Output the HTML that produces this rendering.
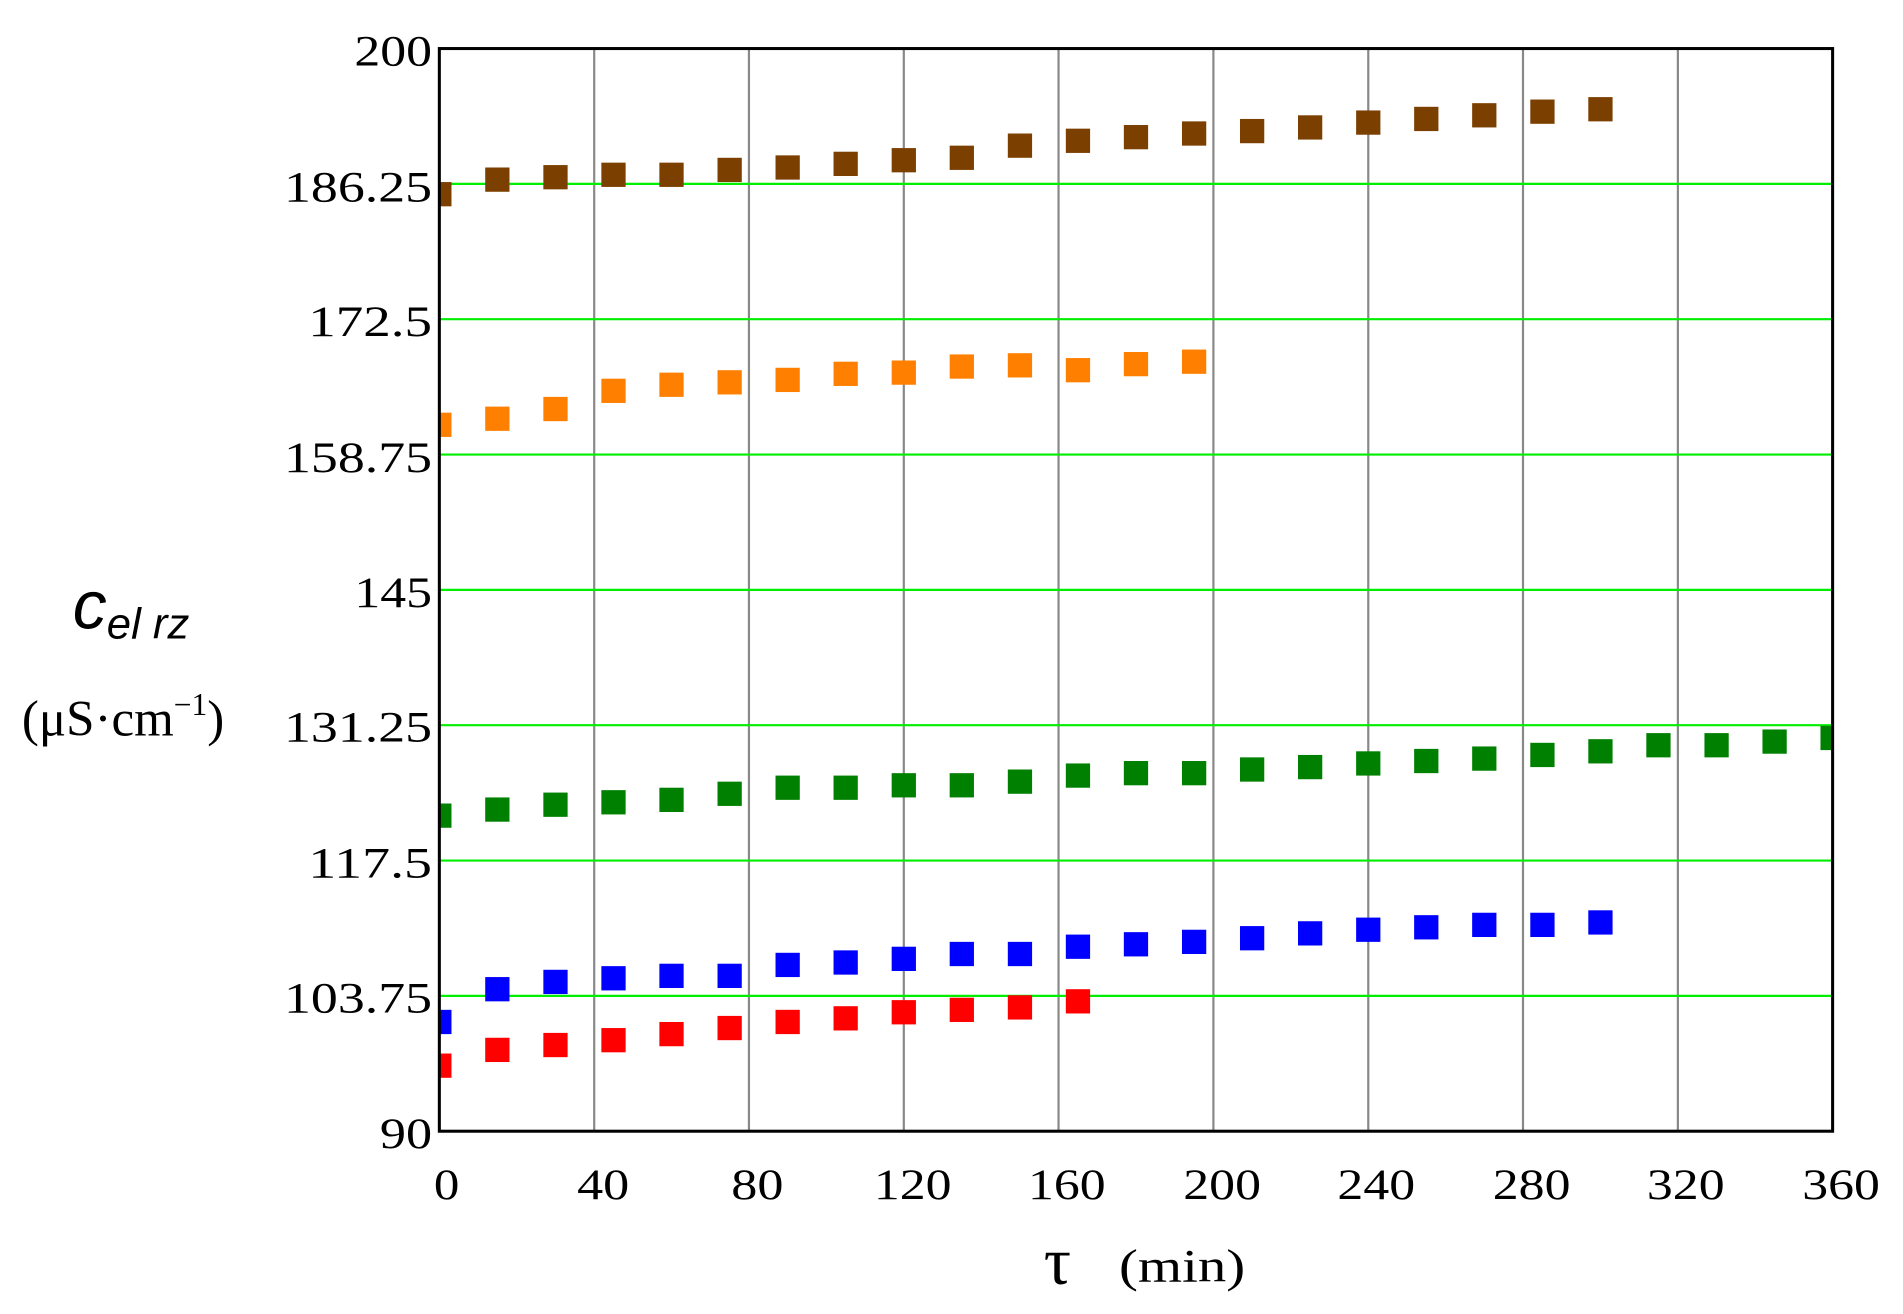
<!DOCTYPE html>
<html><head><meta charset="utf-8"><style>html,body{margin:0;padding:0;background:#fff}svg{display:block}</style></head>
<body>
<svg width="1903" height="1314" viewBox="0 0 1568 1082.6" preserveAspectRatio="none" xmlns="http://www.w3.org/2000/svg">
<defs><clipPath id="c"><rect x="362" y="40" width="1148" height="892"/></clipPath></defs>
<g stroke="#888" stroke-width="1.8">
<line x1="489.6" y1="40" x2="489.6" y2="932"/><line x1="617.1" y1="40" x2="617.1" y2="932"/><line x1="744.7" y1="40" x2="744.7" y2="932"/><line x1="872.2" y1="40" x2="872.2" y2="932"/><line x1="999.8" y1="40" x2="999.8" y2="932"/><line x1="1127.4" y1="40" x2="1127.4" y2="932"/><line x1="1254.9" y1="40" x2="1254.9" y2="932"/><line x1="1382.5" y1="40" x2="1382.5" y2="932"/>
</g>
<g stroke="#00ee00" stroke-width="1.8">
<line x1="362" y1="151.5" x2="1510" y2="151.5"/><line x1="362" y1="263" x2="1510" y2="263"/><line x1="362" y1="374.5" x2="1510" y2="374.5"/><line x1="362" y1="486" x2="1510" y2="486"/><line x1="362" y1="597.5" x2="1510" y2="597.5"/><line x1="362" y1="709" x2="1510" y2="709"/><line x1="362" y1="820.5" x2="1510" y2="820.5"/>
</g>
<g clip-path="url(#c)">
<g fill="#7b3f00">
<rect x="352" y="150" width="20" height="20"/><rect x="399.8" y="138" width="20" height="20"/><rect x="447.7" y="136" width="20" height="20"/><rect x="495.5" y="134" width="20" height="20"/><rect x="543.3" y="134" width="20" height="20"/><rect x="591.2" y="130" width="20" height="20"/><rect x="639" y="128" width="20" height="20"/><rect x="686.8" y="125" width="20" height="20"/><rect x="734.7" y="122" width="20" height="20"/><rect x="782.5" y="120" width="20" height="20"/><rect x="830.4" y="110" width="20" height="20"/><rect x="878.2" y="106" width="20" height="20"/><rect x="926" y="103" width="20" height="20"/><rect x="973.9" y="100" width="20" height="20"/><rect x="1021.7" y="98" width="20" height="20"/><rect x="1069.5" y="95" width="20" height="20"/><rect x="1117.4" y="91" width="20" height="20"/><rect x="1165.2" y="88" width="20" height="20"/><rect x="1213" y="85" width="20" height="20"/><rect x="1260.9" y="82" width="20" height="20"/><rect x="1308.7" y="80" width="20" height="20"/>
</g>
<g fill="#ff8000">
<rect x="352" y="340" width="20" height="20"/><rect x="399.8" y="335" width="20" height="20"/><rect x="447.7" y="327" width="20" height="20"/><rect x="495.5" y="312" width="20" height="20"/><rect x="543.3" y="307" width="20" height="20"/><rect x="591.2" y="305" width="20" height="20"/><rect x="639" y="303" width="20" height="20"/><rect x="686.8" y="298" width="20" height="20"/><rect x="734.7" y="297" width="20" height="20"/><rect x="782.5" y="292" width="20" height="20"/><rect x="830.4" y="291" width="20" height="20"/><rect x="878.2" y="295" width="20" height="20"/><rect x="926" y="290" width="20" height="20"/><rect x="973.9" y="288" width="20" height="20"/>
</g>
<g fill="#008000">
<rect x="352" y="662" width="20" height="20"/><rect x="399.8" y="657" width="20" height="20"/><rect x="447.7" y="653" width="20" height="20"/><rect x="495.5" y="651" width="20" height="20"/><rect x="543.3" y="649" width="20" height="20"/><rect x="591.2" y="644" width="20" height="20"/><rect x="639" y="639" width="20" height="20"/><rect x="686.8" y="639" width="20" height="20"/><rect x="734.7" y="637" width="20" height="20"/><rect x="782.5" y="637" width="20" height="20"/><rect x="830.4" y="634" width="20" height="20"/><rect x="878.2" y="629" width="20" height="20"/><rect x="926" y="627" width="20" height="20"/><rect x="973.9" y="627" width="20" height="20"/><rect x="1021.7" y="624" width="20" height="20"/><rect x="1069.5" y="622" width="20" height="20"/><rect x="1117.4" y="619" width="20" height="20"/><rect x="1165.2" y="617" width="20" height="20"/><rect x="1213" y="615" width="20" height="20"/><rect x="1260.9" y="612" width="20" height="20"/><rect x="1308.7" y="609" width="20" height="20"/><rect x="1356.5" y="604" width="20" height="20"/><rect x="1404.4" y="604" width="20" height="20"/><rect x="1452.2" y="601" width="20" height="20"/><rect x="1500" y="598" width="20" height="20"/>
</g>
<g fill="#0000ff">
<rect x="352" y="832" width="20" height="20"/><rect x="399.8" y="805" width="20" height="20"/><rect x="447.7" y="799" width="20" height="20"/><rect x="495.5" y="796" width="20" height="20"/><rect x="543.3" y="794" width="20" height="20"/><rect x="591.2" y="794" width="20" height="20"/><rect x="639" y="785" width="20" height="20"/><rect x="686.8" y="783" width="20" height="20"/><rect x="734.7" y="780" width="20" height="20"/><rect x="782.5" y="776" width="20" height="20"/><rect x="830.4" y="776" width="20" height="20"/><rect x="878.2" y="770" width="20" height="20"/><rect x="926" y="768" width="20" height="20"/><rect x="973.9" y="766" width="20" height="20"/><rect x="1021.7" y="763" width="20" height="20"/><rect x="1069.5" y="759" width="20" height="20"/><rect x="1117.4" y="756" width="20" height="20"/><rect x="1165.2" y="754" width="20" height="20"/><rect x="1213" y="752" width="20" height="20"/><rect x="1260.9" y="752" width="20" height="20"/><rect x="1308.7" y="750" width="20" height="20"/>
</g>
<g fill="#ff0000">
<rect x="352" y="868" width="20" height="20"/><rect x="399.8" y="855" width="20" height="20"/><rect x="447.7" y="851" width="20" height="20"/><rect x="495.5" y="847" width="20" height="20"/><rect x="543.3" y="842" width="20" height="20"/><rect x="591.2" y="837" width="20" height="20"/><rect x="639" y="832" width="20" height="20"/><rect x="686.8" y="829" width="20" height="20"/><rect x="734.7" y="824" width="20" height="20"/><rect x="782.5" y="822" width="20" height="20"/><rect x="830.4" y="820" width="20" height="20"/><rect x="878.2" y="815" width="20" height="20"/>
</g>
</g>
<rect x="362" y="40" width="1148" height="892" fill="none" stroke="#000" stroke-width="2.5"/>
<g font-family="Liberation Serif, serif" font-size="36" fill="#000" text-anchor="end">
<text x="356" y="54" textLength="64" lengthAdjust="spacingAndGlyphs">200</text>
<text x="356" y="166" textLength="122" lengthAdjust="spacingAndGlyphs">186.25</text>
<text x="356" y="277" textLength="102" lengthAdjust="spacingAndGlyphs">172.5</text>
<text x="356" y="389" textLength="122" lengthAdjust="spacingAndGlyphs">158.75</text>
<text x="356" y="500" textLength="64" lengthAdjust="spacingAndGlyphs">145</text>
<text x="356" y="611" textLength="122" lengthAdjust="spacingAndGlyphs">131.25</text>
<text x="356" y="723" textLength="102" lengthAdjust="spacingAndGlyphs">117.5</text>
<text x="356" y="834" textLength="122" lengthAdjust="spacingAndGlyphs">103.75</text>
<text x="356" y="946" textLength="43" lengthAdjust="spacingAndGlyphs">90</text>
</g>
<g font-family="Liberation Serif, serif" font-size="36" fill="#000" text-anchor="middle">
<text x="368" y="988" textLength="21" lengthAdjust="spacingAndGlyphs">0</text>
<text x="497" y="988" textLength="43" lengthAdjust="spacingAndGlyphs">40</text>
<text x="624" y="988" textLength="43" lengthAdjust="spacingAndGlyphs">80</text>
<text x="752" y="988" textLength="64" lengthAdjust="spacingAndGlyphs">120</text>
<text x="879" y="988" textLength="64" lengthAdjust="spacingAndGlyphs">160</text>
<text x="1007" y="988" textLength="64" lengthAdjust="spacingAndGlyphs">200</text>
<text x="1134" y="988" textLength="64" lengthAdjust="spacingAndGlyphs">240</text>
<text x="1262" y="988" textLength="64" lengthAdjust="spacingAndGlyphs">280</text>
<text x="1389" y="988" textLength="64" lengthAdjust="spacingAndGlyphs">320</text>
<text x="1517" y="988" textLength="64" lengthAdjust="spacingAndGlyphs">360</text>
</g>
<text x="860" y="1058" font-family="Liberation Serif, serif" font-size="56">τ</text>
<text x="922" y="1056" font-family="Liberation Serif, serif" font-size="38" textLength="104" lengthAdjust="spacingAndGlyphs">(min)</text>
<text x="60" y="518" font-family="Liberation Sans, sans-serif" font-style="italic" font-size="56">c<tspan font-size="36" dy="8">el rz</tspan></text>
<text x="18" y="606" font-family="Liberation Serif, serif" font-size="42">(μS·cm<tspan font-size="26" dy="-17">−1</tspan><tspan dy="17">)</tspan></text>
</svg>
</body></html>
